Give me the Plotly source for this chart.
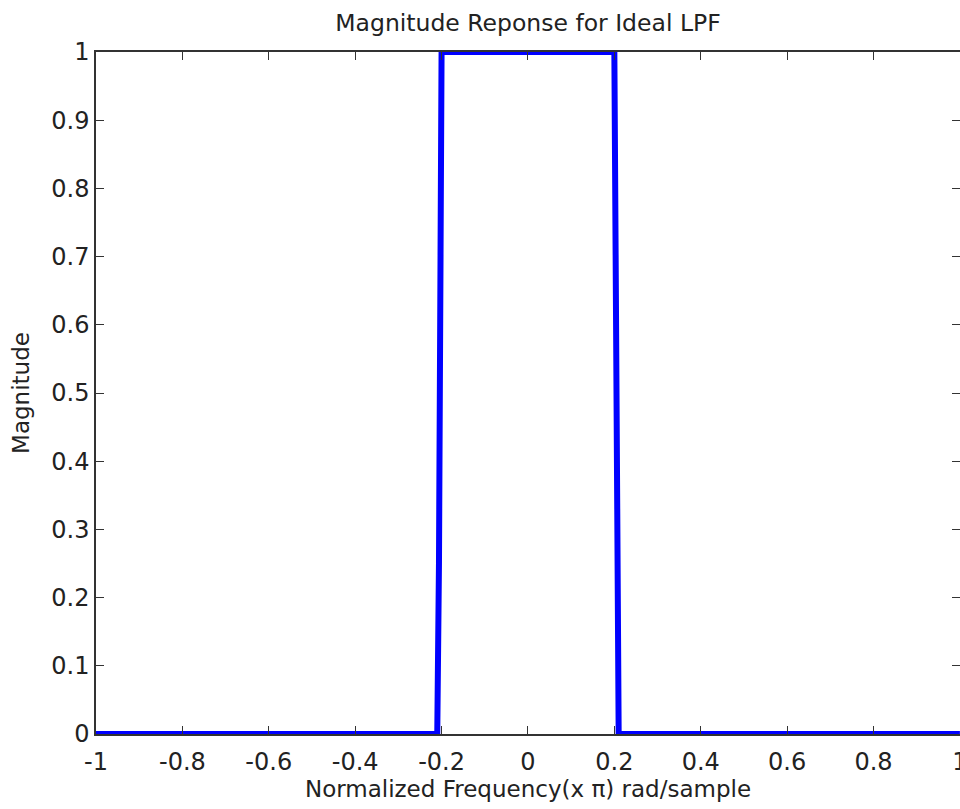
import plotly.graph_objects as go

# Data (normalized frequency x pi, magnitude)
freq = [-1.0, -0.21, -0.206, -0.203, -0.2, 0.2, 0.203, 0.206, 0.21, 1.0]
mag = [0.0, 0.0, 0.25, 0.75, 1.0, 1.0, 0.75, 0.25, 0.0, 0.0]

x_tickvals = [-1, -0.8, -0.6, -0.4, -0.2, 0, 0.2, 0.4, 0.6, 0.8, 1]
x_ticktext = ["-1", "-0.8", "-0.6", "-0.4", "-0.2", "0", "0.2", "0.4", "0.6", "0.8", "1"]
y_tickvals = [0, 0.1, 0.2, 0.3, 0.4, 0.5, 0.6, 0.7, 0.8, 0.9, 1]
y_ticktext = ["0", "0.1", "0.2", "0.3", "0.4", "0.5", "0.6", "0.7", "0.8", "0.9", "1"]

title_text = "Magnitude Reponse for Ideal LPF"
x_title = "Normalized Frequency(x \u03c0) rad/sample"
y_title = "Magnitude"

FONT = "DejaVu Sans"
TXT = "#222222"
AX = "#333333"

fig = go.Figure()
fig.add_trace(go.Scatter(
    x=freq, y=mag, mode="lines",
    line=dict(color="rgb(0,0,255)", width=6),
    showlegend=False, hoverinfo="skip",
))

fig.update_layout(
    width=960, height=809,
    margin=dict(l=96, r=0, t=52, b=75, autoexpand=False),
    paper_bgcolor="white", plot_bgcolor="white",
    font=dict(family=FONT, size=23, color=TXT),
    title=dict(text=title_text, x=0.5, xref="paper", xanchor="center",
               y=1 - 23 / 809, yref="container", yanchor="middle",
               font=dict(family=FONT, size=23.5, color=TXT)),
)

fig.update_xaxes(
    range=[-1, 1.0002], tickvals=x_tickvals, ticktext=x_ticktext,
    showgrid=False, zeroline=False, automargin=False,
    showline=True, linecolor=AX, linewidth=1.5, mirror="allticks",
    ticks="inside", ticklen=8, tickwidth=1, tickcolor=AX,
    tickfont=dict(family=FONT, size=24, color=TXT),
    ticklabelstandoff=5, ticklabeloverflow="allow",
    title=dict(text=x_title, font=dict(family=FONT, size=23, color=TXT), standoff=4),
)
fig.update_yaxes(
    range=[0, 1], tickvals=y_tickvals, ticktext=y_ticktext,
    showgrid=False, zeroline=False, automargin=False,
    showline=True, linecolor=AX, linewidth=1.5, mirror="allticks",
    ticks="inside", ticklen=8, tickwidth=1, tickcolor=AX,
    tickfont=dict(family=FONT, size=24, color=TXT),
    ticklabelstandoff=0,
    title=dict(text=y_title, font=dict(family=FONT, size=23, color=TXT), standoff=15),
)

fig.write_html("out.html")
